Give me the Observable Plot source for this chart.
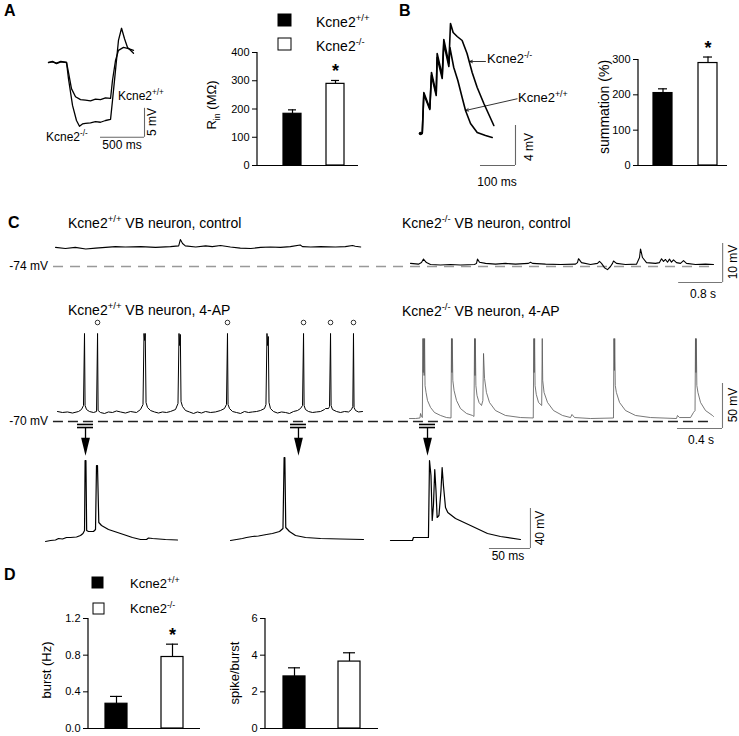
<!DOCTYPE html>
<html><head><meta charset="utf-8">
<script src="https://cdn.jsdelivr.net/npm/d3@7"></script>
<script src="https://cdn.jsdelivr.net/npm/@observablehq/plot@0.6"></script>
<style>
html,body{margin:0;padding:0;background:#fff;}
#fig{position:relative;width:739px;height:736px;overflow:hidden;background:#fff;}
</style></head><body><div id="fig"></div>
<script>
// ---------------- DATA ----------------
const groups = ["+/+", "-/-"];
// bar values: [mean, sem]
const rinMean = [183, 289], rinErr = [14, 12];
const sumMean = [205, 290], sumErr = [12, 17];
const burstMean = [0.27, 0.78], burstErr = [0.08, 0.14];
const spbMean = [2.84, 3.65], spbErr = [0.47, 0.48];
const rinSig = ["-/-"], sumSig = ["-/-"], burstSig = ["-/-"], spbSig = [];
const rinTicks = [0, 100, 200, 300, 400];
const sumTicks = [0, 100, 200, 300];
const burstTicks = [0, 0.4, 0.8, 1.2];
const spbTicks = [0, 2, 4, 6];

// Panel A voltage responses (ms, mV relative to rest)
const aWT = [[0,0],[45,0.2],[91,-0.2],[140,0.1],[205,0],[227,-1.7],[261,-4.5],[307,-5.9],[364,-6.4],[420,-6.5],[477,-6.6],[534,-6.3],[591,-6.4],[648,-6.1],[705,-6.2],[727,-3.1],[761,0.3],[795,2.1],[852,2.6],[909,2.4],[966,2.1]];
const aKO = [[0,0],[45,0.1],[91,-0.1],[140,0.2],[205,0],[227,-2.8],[273,-7.4],[318,-10],[352,-11],[386,-10.6],[420,-10.5],[477,-10.4],[534,-10.2],[591,-10.3],[648,-10.0],[705,-9.8],[727,-6.6],[761,-1.4],[795,3.8],[830,5.9],[864,4.1],[898,2.6],[932,2.1],[966,1.6]];
// Panel B EPSP summation (ms, mV)
const bWT = [[0,0],[5,0],[9.5,3.9],[26.6,2.4],[31.4,5.8],[44.9,3.8],[47.6,7.6],[62,5.5],[66.6,9.0],[81,6.7],[84,8.6],[95,6.6],[106.7,5.3],[119,3.6],[128.6,2.3],[142.9,1.0],[162,0.1],[185.7,-0.2],[204.8,-0.4]];
const bKO = [[0,0],[5,0],[9.5,4.1],[26.6,2.5],[31.4,6.1],[44.9,4.0],[47.6,8.0],[62,5.8],[66.6,9.4],[81,7.0],[85.7,11.0],[93.3,10.1],[104.8,9.7],[119,9.3],[133,8.0],[147.6,6.1],[162,4.6],[181,3.0],[209.5,0.8]];
// Panel C control (s, mV)
const cWT = [[0,-69.1],[0.18,-69.4],[0.36,-69.1],[0.55,-69.5],[0.73,-69.3],[0.91,-69.1],[1.09,-68.9],[1.27,-69.0],[1.55,-68.9],[1.82,-69.1],[2.09,-68.9],[2.24,-68.7],[2.27,-67.1],[2.31,-68.1],[2.36,-68.7],[2.55,-69.0],[2.73,-68.7],[2.85,-68.9],[3.0,-68.6],[3.18,-69.0],[3.36,-69.3],[3.55,-69.4],[3.73,-69.1],[3.91,-69.0],[4.09,-69.1],[4.27,-68.9],[4.45,-68.5],[4.49,-68.9],[4.64,-69.0],[4.82,-68.9],[5.09,-69.0],[5.27,-68.9],[5.4,-68.6],[5.45,-68.8],[5.55,-69.0]];
const cKO = [[0,-73.2],[0.145,-73.4],[0.2,-73.0],[0.236,-72.1],[0.29,-73.0],[0.364,-73.5],[0.545,-73.6],[0.727,-73.5],[0.909,-73.6],[1.164,-73.5],[1.2,-73.2],[1.218,-72.1],[1.255,-72.9],[1.364,-73.2],[1.545,-73.4],[1.727,-73.2],[1.909,-73.4],[2.145,-73.2],[2.182,-72.9],[2.218,-73.2],[2.455,-73.4],[2.727,-73.5],[3.0,-73.4],[3.036,-73.0],[3.055,-72.0],[3.109,-73.0],[3.273,-73.5],[3.4,-73.2],[3.436,-72.7],[3.473,-73.2],[3.527,-74.3],[3.582,-74.8],[3.636,-74.0],[3.673,-73.2],[3.691,-72.6],[3.745,-73.2],[3.909,-73.5],[4.109,-73.4],[4.164,-71.7],[4.182,-69.5],[4.218,-71.7],[4.291,-73.0],[4.455,-73.2],[4.527,-73.0],[4.564,-72.0],[4.6,-72.7],[4.636,-72.2],[4.673,-72.9],[4.709,-72.1],[4.745,-72.9],[4.782,-72.3],[4.836,-73.0],[4.909,-73.2],[4.964,-72.5],[5.018,-73.2],[5.182,-73.5],[5.364,-73.4],[5.509,-73.5]];
// Panel C 4-AP (ms, mV)
const pWT = [[0,-58.9],[44,-60.0],[89,-59.4],[133,-60.6],[187,-58.9],[213,-56.7],[231,-52.2],[240,27.8],[245,-52.2],[258,-56.7],[284,-58.9],[320,-60.0],[347,-58.9],[356,27.8],[361,-57.8],[382,-60.0],[418,-61.1],[453,-59.4],[489,-60.0],[524,-58.3],[560,-59.4],[604,-60.6],[649,-58.9],[702,-60.0],[738,-56.7],[760,-51.1],[769,27.8],[775,20],[780,27.8],[787,-48.9],[800,-54.4],[827,-57.8],[862,-59.4],[898,-60.6],[933,-59.4],[969,-60.0],[1004,-58.9],[1049,-56.7],[1071,-50],[1080,27.8],[1086,14.4],[1092,26.7],[1098,-47.8],[1111,-53.3],[1138,-57.8],[1173,-59.4],[1209,-61.1],[1244,-59.4],[1280,-60.6],[1316,-58.9],[1360,-60.0],[1404,-59.4],[1449,-57.8],[1484,-55.6],[1502,-51.1],[1511,27.8],[1516,-51.1],[1529,-55.6],[1556,-58.9],[1591,-60.0],[1627,-61.1],[1662,-58.9],[1698,-60.0],[1733,-59.4],[1769,-58.9],[1804,-57.8],[1840,-55.6],[1853,-51.1],[1862,27.8],[1868,14.4],[1874,24.4],[1880,-48.9],[1893,-55.6],[1920,-58.9],[1956,-60.6],[1991,-59.4],[2027,-60.0],[2062,-61.1],[2098,-58.9],[2133,-57.8],[2160,-55.6],[2178,-52.2],[2187,27.8],[2192,-52.2],[2204,-56.7],[2231,-58.9],[2267,-60.0],[2302,-59.4],[2338,-58.9],[2373,-56.7],[2382,-55.6],[2409,-55.6],[2418,-53.3],[2427,27.8],[2432,-52.2],[2444,-56.7],[2480,-58.9],[2516,-60.0],[2551,-58.9],[2587,-59.4],[2613,-56.7],[2625,-53.3],[2631,27.8],[2636,-54.4],[2649,-57.8],[2676,-59.4],[2711,-58.9]];
const pKO = [[0,-66.7],[53,-66.7],[93,-66.1],[98,-61.1],[107,-64.4],[114,-65.6],[119,22.2],[122,-15.6],[126,22.2],[130,-18.9],[134,22.2],[138,-30],[147,-37.8],[160,-46.7],[187,-54.4],[222,-60],[276,-63.3],[329,-65.6],[369,-66.1],[373,22.2],[377,-15.6],[380,22.2],[385,-24.4],[396,-35.6],[418,-46.7],[453,-55.6],[507,-61.1],[560,-63.3],[573,-64.4],[578,22.2],[582,-18.9],[585,22.2],[590,-30],[600,-41.1],[618,-48.9],[640,-52.2],[652,-46.7],[658,5.6],[667,-22.2],[684,-37.8],[711,-48.9],[764,-57.8],[853,-63.3],[987,-65.6],[1100,-66.1],[1105,22.2],[1108,-15.6],[1112,22.2],[1116,-30],[1127,-40],[1147,-48.9],[1175,-52.2],[1180,22.2],[1184,-24.4],[1196,-37.8],[1227,-48.9],[1280,-57.8],[1360,-63.3],[1431,-65.6],[1444,-62.2],[1467,-65.6],[1609,-66.7],[1813,-66.1],[1817,22.2],[1821,-13.3],[1824,22.2],[1829,-30],[1839,-37.8],[1867,-48.9],[1920,-57.8],[2009,-63.3],[2142,-65.6],[2373,-66.7],[2382,-63.3],[2400,-65.6],[2498,-65.6],[2524,-60],[2538,-57.8],[2542,22.2],[2546,-15.6],[2549,22.2],[2554,-30],[2564,-37.8],[2587,-48.9],[2631,-57.8],[2693,-63.3],[2702,-64.4]];
const pKOStart = 3129;                 // ms, start of KO 4-AP trace on shared time axis
const markedSpikes = [356, 1511, 2187, 2427, 2631]; // ms, spikes marked with o
const expandedAt = [249, 2142, 3289];  // ms, events expanded below
// Expanded events (ms, mV)
const e1 = [[0,-61],[6.1,-60],[12.2,-59.5],[15.9,-58],[20.7,-58.5],[25.6,-57],[30.5,-57],[37.8,-56.5],[42.7,-55],[45.7,-53],[47.6,-50],[48.3,20],[49.3,20],[50.2,-50],[52.4,-51],[58.5,-51],[61,-49],[62.2,15],[63.4,15],[65,-42],[68.3,-45],[76.8,-49],[91.5,-53],[106,-57],[115.9,-59],[123.2,-59],[125.6,-57.5],[130.5,-58],[146.3,-59],[161,-59.5]];
const e2 = [[0,-60],[7.3,-59],[14.6,-58],[19.5,-57],[26.8,-56],[34.1,-55.5],[43.9,-54],[51.2,-53],[59.8,-51],[64,-48],[65.4,23],[66.3,23],[67.4,-47],[71.9,-51],[79.3,-55],[91.5,-57],[109.8,-58],[134.1,-58.5],[162.2,-59]];
const e3 = [[0,-60],[26.8,-60],[28,-57],[46.3,-57],[47.6,20],[49.4,5],[50.9,-40],[52.4,-25],[54,11],[55.5,-10],[56.9,-37],[59.1,-35],[61.6,-10],[63,13],[64.6,-5],[67.1,-27],[69.9,-32],[79.3,-38],[97.6,-45],[118.3,-53],[134.1,-56],[158.5,-59]];
const eStarts = [0, 225.6, 420.7];      // ms offsets of the three expanded sweeps

// ---------------- HELPERS ----------------
const FONT = '"Liberation Sans", Arial, Helvetica, sans-serif';
const fig = document.getElementById("fig");
const baseStyle = (L, T, fs = "12px") => ({position: "absolute", left: L + "px", top: T + "px", background: "transparent", overflow: "visible", fontFamily: FONT, fontSize: fs, maxWidth: "none"});

function frame({L, T, W, H, xRef, yRef, kx, ky}) {
  return {
    width: W, height: H, margin: 0, style: baseStyle(L, T),
    x: {domain: [xRef[1] + (L - xRef[0]) / kx, xRef[1] + (L + W - xRef[0]) / kx], axis: null},
    y: {domain: [yRef[1] - (T + H - yRef[0]) / ky, yRef[1] + (yRef[0] - T) / ky], axis: null}
  };
}
function scaleBar(cx, cy, dx, dy, color = "#666") {
  return [
    Plot.ruleY([{y: cy, a: cx - dx, b: cx}], {y: "y", x1: "a", x2: "b", stroke: color, strokeWidth: 1.1}),
    Plot.ruleX([{x: cx, a: cy, b: cy + dy}], {x: "x", y1: "a", y2: "b", stroke: color, strokeWidth: 1.1})
  ];
}
const X = d => d[0], Y = d => d[1];

function barChart({L, T, W, H, ml, mr, mt, mb, mean, err, sig, ticks, fmt, pi, po, align}) {
  const data = groups.map((g, i) => ({g, v: mean[i], e: err[i]}));
  const p = Plot.plot({
    width: W, height: H, marginLeft: ml, marginRight: mr, marginTop: mt, marginBottom: mb,
    style: baseStyle(L, T, "11px"),
    x: {type: "band", domain: groups, paddingInner: pi, paddingOuter: po, align, axis: null},
    y: {domain: [ticks[0], ticks[ticks.length - 1]], ticks, tickFormat: fmt, tickSize: 5, tickPadding: 3, label: null},
    marks: [
      Plot.ruleX(data, {x: "g", y1: "v", y2: d => d.v + d.e, stroke: "black", strokeWidth: 1.2}),
      Plot.tickY(data, {x: "g", y: d => d.v + d.e, insetLeft: 5, insetRight: 5, stroke: "black", strokeWidth: 1.2}),
      Plot.barY(data.filter(d => d.g === groups[0]), {x: "g", y: "v", fill: "black", stroke: "black", strokeWidth: 1.2}),
      Plot.barY(data.filter(d => d.g === groups[1]), {x: "g", y: "v", fill: "white", stroke: "black", strokeWidth: 1.2}),
      Plot.ruleY([ticks[0]], {stroke: "black", strokeWidth: 1.2}),
      Plot.text(data.filter(d => sig.includes(d.g)), {x: "g", y: d => d.v + d.e, text: () => "*", dy: -9, fontSize: 18, fontWeight: "bold"})
    ]
  });
  const sy = p.scale("y");
  d3.select(p).append("line").attr("x1", ml).attr("x2", ml)
    .attr("y1", sy.apply(ticks[0])).attr("y2", sy.apply(ticks[ticks.length - 1]))
    .attr("stroke", "black").attr("stroke-width", 1.2);
  fig.appendChild(p);
}

// ---------------- PANEL A ----------------
fig.appendChild(Plot.plot({
  ...frame({L: 30, T: 20, W: 145, H: 140, xRef: [48, 0], yRef: [62, 0], kx: 0.088, ky: 5.8}),
  marks: [
    Plot.line(aWT, {x: X, y: Y, stroke: "black", strokeWidth: 1.3}),
    Plot.line(aKO, {x: X, y: Y, stroke: "black", strokeWidth: 1.3}),
    ...scaleBar(1091, -12.9, 500, 5)
  ]
}));
barChart({L: 190, T: 30, W: 175, H: 140, ml: 67, mr: 7, mt: 22, mb: 5, mean: rinMean, err: rinErr, sig: rinSig, ticks: rinTicks, fmt: d3.format("d"), pi: 0.59, po: 0.443, align: 0.64});

// ---------------- PANEL B ----------------
const labelArrows = [{x1: 185.7, y1: 7.2, x2: 140, y2: 7.2}, {x1: 276, y1: 3.47, x2: 128.6, y2: 2.3}];
fig.appendChild(Plot.plot({
  ...frame({L: 400, T: 15, W: 180, H: 175, xRef: [420, 0], yRef: [133, 0], kx: 0.35, ky: 10}),
  marks: [
    Plot.line(bWT, {x: X, y: Y, stroke: "black", strokeWidth: 1.6}),
    Plot.line(bKO, {x: X, y: Y, stroke: "black", strokeWidth: 1.6}),
    Plot.dot([bKO[0]], {x: X, y: Y, r: 1.8, fill: "black"}),
    Plot.arrow(labelArrows, {x1: "x1", y1: "y1", x2: "x2", y2: "y2", stroke: "black", strokeWidth: 0.8, headLength: 6, headAngle: 45}),
    ...scaleBar(271.4, -3.2, 100, 4)
  ]
}));
barChart({L: 580, T: 40, W: 155, H: 130, ml: 58, mr: 8, mt: 19, mb: 5, mean: sumMean, err: sumErr, sig: sumSig, ticks: sumTicks, fmt: d3.format("d"), pi: 0.571, po: 0.264, align: 0.625});

// ---------------- PANEL C control ----------------
const cKOStart = 6.4545; // s
fig.appendChild(Plot.plot({
  ...frame({L: 0, T: 232, W: 739, H: 72, xRef: [55, 0], yRef: [266, -74], kx: 55, ky: 3.9}),
  marks: [
    Plot.ruleY([{y: -74, a: -0.036, b: 11.96}], {y: "y", x1: "a", x2: "b", stroke: "#999", strokeWidth: 1.3, strokeDasharray: "10,7"}),
    Plot.line(cWT, {x: X, y: Y, stroke: "black", strokeWidth: 1.1}),
    Plot.line(cKO, {x: d => d[0] + cKOStart, y: Y, stroke: "black", strokeWidth: 1.1}),
    ...scaleBar(12.13, -78.1, 0.8, 10, "#777")
  ]
}));

// ---------------- PANEL C 4-AP ----------------
const downArrow = {draw(ctx, size) { const r = Math.sqrt(size / Math.PI); ctx.moveTo(-r * 0.55, -r * 1.1); ctx.lineTo(r * 0.55, -r * 1.1); ctx.lineTo(0, r * 1.15); ctx.closePath(); }};
fig.appendChild(Plot.plot({
  ...frame({L: 0, T: 318, W: 739, H: 140, xRef: [57, 0], yRef: [421, -70], kx: 0.1125, ky: 0.9}),
  marks: [
    Plot.ruleY([{y: -70, a: -36, b: 5831}], {y: "y", x1: "a", x2: "b", stroke: "#222", strokeWidth: 1.3, strokeDasharray: "10,5"}),
    Plot.line(pWT, {x: X, y: Y, stroke: "black", strokeWidth: 1}),
    Plot.line(pKO, {x: d => d[0] + pKOStart, y: Y, stroke: "#555", strokeWidth: 0.8}),
    Plot.dot(markedSpikes, {x: d => d, y: 40, r: 2.3, stroke: "black", fill: "white", strokeWidth: 0.8}),
    Plot.ruleY(expandedAt, {y: -73.3, x1: d => d - 71, x2: d => d + 71, stroke: "black", strokeWidth: 1.6}),
    Plot.ruleY(expandedAt, {y: -76.7, x1: d => d - 71, x2: d => d + 71, stroke: "black", strokeWidth: 1.6}),
    Plot.ruleX(expandedAt, {x: d => d, y1: -76.7, y2: -90, stroke: "black", strokeWidth: 1.3}),
    Plot.dot(expandedAt, {x: d => d, y: -97.8, r: 8, symbol: downArrow, fill: "black", stroke: "none"}),
    ...scaleBar(5911, -77.8, 400, 50, "#777")
  ]
}));

// ---------------- expanded events ----------------
fig.appendChild(Plot.plot({
  ...frame({L: 0, T: 452, W: 739, H: 115, xRef: [45, 0], yRef: [540, -60], kx: 0.82, ky: 1}),
  marks: [
    Plot.line(e1, {x: d => d[0] + eStarts[0], y: Y, stroke: "black", strokeWidth: 1.2}),
    Plot.line(e2, {x: d => d[0] + eStarts[1], y: Y, stroke: "black", strokeWidth: 1.2}),
    Plot.line(e3, {x: d => d[0] + eStarts[2], y: Y, stroke: "black", strokeWidth: 1.2}),
    ...scaleBar(591.4, -68, 50, 40, "#777")
  ]
}));

// ---------------- PANEL D ----------------
barChart({L: 40, T: 600, W: 165, H: 135, ml: 48, mr: 5, mt: 18, mb: 7, mean: burstMean, err: burstErr, sig: burstSig, ticks: burstTicks, fmt: d3.format(".1f"), pi: 0.607, po: 0.3035, align: 0.5});
barChart({L: 220, T: 600, W: 165, H: 135, ml: 45, mr: 7, mt: 18, mb: 7, mean: spbMean, err: spbErr, sig: spbSig, ticks: spbTicks, fmt: d3.format("d"), pi: 0.6, po: 0.327, align: 0.5});

// ---------------- TEXT OVERLAY ----------------
const overlay = d3.select(fig).append("svg").attr("width", 739).attr("height", 736)
  .style("position", "absolute").style("left", "0px").style("top", "0px").style("pointer-events", "none");
function label(x, y, parts, {size = 12, anchor = "start", rotate = 0, weight = "normal"} = {}) {
  const t = overlay.append("text").attr("font-size", size).attr("font-weight", weight)
    .attr("text-anchor", anchor).attr("font-family", FONT).attr("fill", "black");
  if (rotate) t.attr("transform", `translate(${x},${y}) rotate(${rotate})`); else t.attr("x", x).attr("y", y);
  let shift = 0;
  for (const p of (typeof parts === "string" ? [parts] : parts)) {
    const [s, k] = Array.isArray(p) ? p : [p, "n"];
    const target = k === "sup" ? -size * 0.4 : k === "sub" ? size * 0.28 : 0;
    t.append("tspan").attr("dy", target - shift).attr("font-size", k === "n" ? size : size * 0.68).text(s);
    shift = target;
  }
}
function box(x, y, w, h, fill) {
  overlay.append("rect").attr("x", x).attr("y", y).attr("width", w).attr("height", h).attr("fill", fill).attr("stroke", "black").attr("stroke-width", 1);
}
const WT = ["Kcne2", ["+/+", "sup"]], KO = ["Kcne2", ["-/-", "sup"]];
// panel letters
label(4, 16, "A", {size: 16, weight: "bold"});
label(399, 16, "B", {size: 16, weight: "bold"});
label(8, 228, "C", {size: 16, weight: "bold"});
label(4, 580, "D", {size: 16, weight: "bold"});
// A
label(118, 100, WT, {size: 12});
label(46, 141, KO, {size: 12});
label(122, 149, "500 ms", {anchor: "middle"});
label(156, 122, "5 mV", {anchor: "middle", rotate: -90});
box(278, 14, 13, 12, "black"); box(278, 38, 13, 12, "white");
label(316, 27, WT, {size: 14}); label(316, 51, KO, {size: 14});
label(216, 105, ["R", ["in", "sub"], " (MΩ)"], {anchor: "middle", rotate: -90, size: 13});
// B
label(487, 63, KO, {size: 13});
label(518, 102, WT, {size: 13});
label(533, 147, "4 mV", {anchor: "middle", rotate: -90});
label(497, 186, "100 ms", {anchor: "middle"});
label(609, 107, "summation (%)", {anchor: "middle", rotate: -90, size: 14});
// C
label(68, 228, [...WT, " VB neuron, control"], {size: 14});
label(402, 228, [...KO, " VB neuron, control"], {size: 14});
label(68, 315, [...WT, " VB neuron, 4-AP"], {size: 14});
label(402, 316, [...KO, " VB neuron, 4-AP"], {size: 14});
label(48, 270, "-74 mV", {anchor: "end"});
label(48, 425, "-70 mV", {anchor: "end"});
label(737, 262, "10 mV", {anchor: "middle", rotate: -90});
label(703, 298, "0.8 s", {anchor: "middle"});
label(737, 405, "50 mV", {anchor: "middle", rotate: -90});
label(701, 444, "0.4 s", {anchor: "middle"});
label(544, 528, "40 mV", {anchor: "middle", rotate: -90});
label(508, 560, "50 ms", {anchor: "middle"});
// D
box(92, 577, 11, 11, "black"); box(93, 603, 11, 11, "white");
label(130, 588, WT, {size: 13}); label(130, 613, KO, {size: 13});
label(51, 670, "burst (Hz)", {anchor: "middle", rotate: -90, size: 13});
label(239, 673, "spike/burst", {anchor: "middle", rotate: -90, size: 13});
</script></body></html>
